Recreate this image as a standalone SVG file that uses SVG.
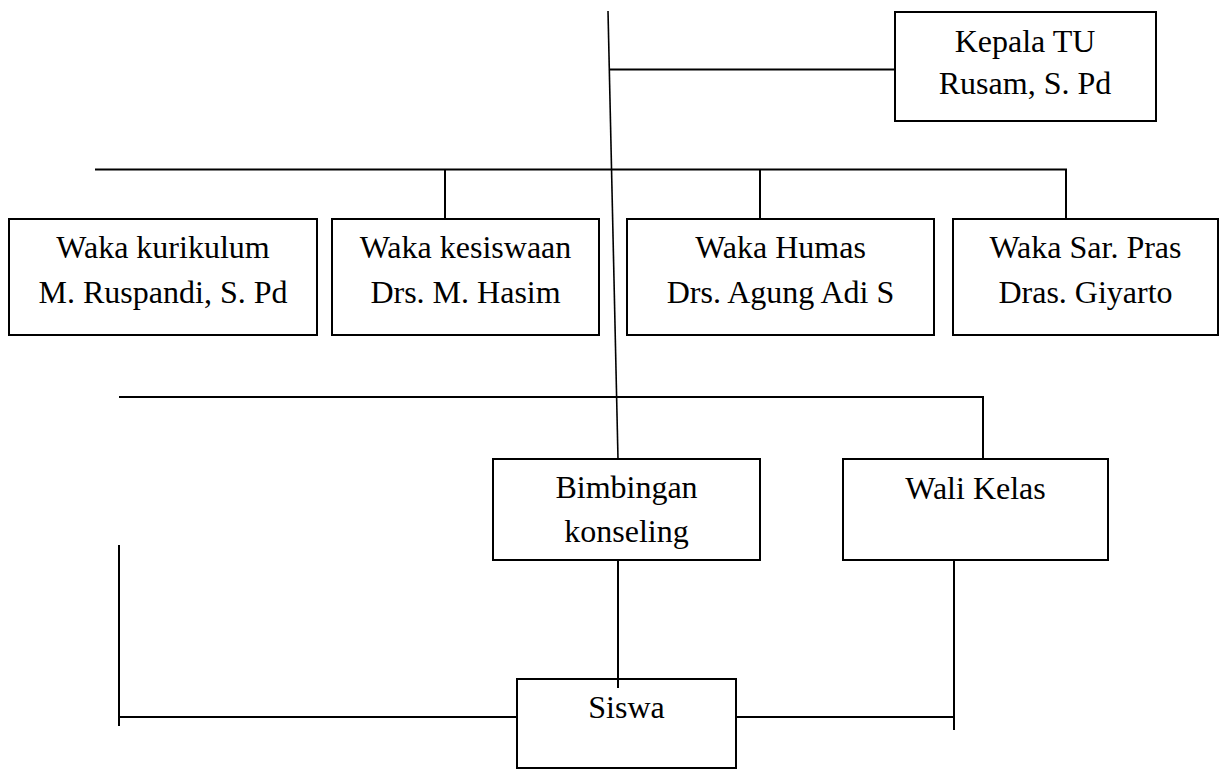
<svg xmlns="http://www.w3.org/2000/svg" width="1225" height="769" viewBox="0 0 1225 769">
<style>
.box{fill:#fff;stroke:#000;stroke-width:2}
.ln{stroke:#000;stroke-width:2;fill:none}
.thin{stroke:#000;stroke-width:1.6;fill:none}
text{font-family:"Liberation Serif","Times New Roman",serif;font-size:32px;fill:#000;text-anchor:middle}
</style>
<rect width="1225" height="769" fill="#fff"/>
<g id="connectors">
<line class="thin" x1="608" y1="11" x2="618" y2="459"/>
<line class="ln" x1="609" y1="69.5" x2="895" y2="69.5"/>
<line class="ln" x1="95" y1="169.5" x2="1067" y2="169.5"/>
<line class="ln" x1="445" y1="169.5" x2="445" y2="219"/>
<line class="ln" x1="760" y1="169.5" x2="760" y2="219"/>
<line class="ln" x1="1066" y1="169.5" x2="1066" y2="219"/>
<line class="ln" x1="119" y1="397" x2="984" y2="397"/>
<line class="ln" x1="983" y1="397" x2="983" y2="459"/>
<line class="ln" x1="618" y1="560" x2="618" y2="688"/>
<line class="ln" x1="954" y1="560" x2="954" y2="730"/>
<line class="ln" x1="119" y1="545" x2="119" y2="726"/>
<line class="ln" x1="119" y1="717" x2="517" y2="717"/>
<line class="ln" x1="736" y1="717" x2="954" y2="717"/>
</g>
<g id="kepala-tu">
<rect class="box" x="895" y="12" width="261" height="109"/>
<text x="1025" y="52">Kepala TU</text>
<text x="1025" y="94">Rusam, S. Pd</text>
</g>
<g id="waka-kurikulum">
<rect class="box" x="9" y="219" width="308" height="116"/>
<text x="163" y="258">Waka kurikulum</text>
<text x="163" y="303">M. Ruspandi, S. Pd</text>
</g>
<g id="waka-kesiswaan">
<rect class="box" x="332" y="219" width="267" height="116"/>
<text x="465.5" y="258">Waka kesiswaan</text>
<text x="465.5" y="303">Drs. M. Hasim</text>
</g>
<g id="waka-humas">
<rect class="box" x="627" y="219" width="307" height="116"/>
<text x="780.5" y="258">Waka Humas</text>
<text x="780.5" y="303">Drs. Agung Adi S</text>
</g>
<g id="waka-sarpras">
<rect class="box" x="953" y="219" width="265" height="116"/>
<text x="1085.5" y="258">Waka Sar. Pras</text>
<text x="1085.5" y="303">Dras. Giyarto</text>
</g>
<g id="bimbingan-konseling">
<rect class="box" x="493" y="459" width="267" height="101"/>
<text x="626.5" y="498">Bimbingan</text>
<text x="626.5" y="542">konseling</text>
</g>
<g id="wali-kelas">
<rect class="box" x="843" y="459" width="265" height="101"/>
<text x="975.5" y="499">Wali Kelas</text>
</g>
<g id="siswa">
<rect class="box" x="517" y="679" width="219" height="89"/>
<line class="ln" x1="618" y1="679" x2="618" y2="688"/>
<text x="626.5" y="718">Siswa</text>
</g>
</svg>
